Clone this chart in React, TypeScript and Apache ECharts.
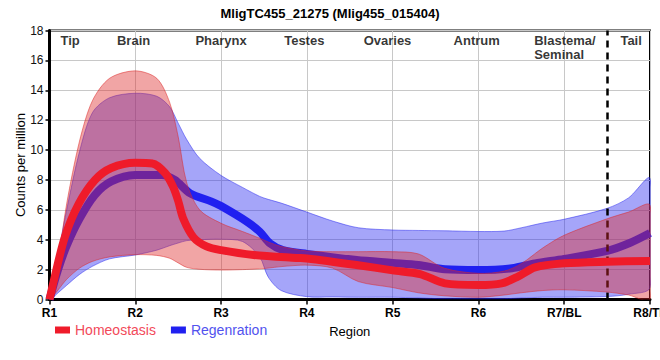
import React, { useEffect, useRef } from "react";
import * as echarts from "echarts";

const FONT = '"Liberation Sans", Arial, sans-serif';

const xLabels = ["R1", "R2", "R3", "R4", "R5", "R6", "R7/BL", "R8/TL"];
const regionNames = ["Tip", "Brain", "Pharynx", "Testes", "Ovaries", "Antrum", "Blastema/\nSeminal", "Tail"];
const regionX = [1.24, 1.98, 3.0, 3.97, 4.94, 5.98, 6.65, 7.78];

const xGrid = [1, 1.1, 1.2, 1.35, 1.5, 1.7, 2, 2.25, 2.4, 2.5, 2.6, 2.75, 3, 3.25, 3.45, 3.55, 3.7, 4, 4.3, 4.6, 5, 5.3, 5.6, 6, 6.3, 6.5, 6.75, 7, 7.5, 7.75, 8];

const homeoUpper = [0, 2.6, 6.4, 10.6, 13.3, 14.8, 15.3, 14.8, 13.2, 10.9, 7.8, 6.0, 5.1, 4.55, 4.1, 3.85, 3.55, 3.25, 3.2, 3.2, 3.2, 3.05, 2.1, 1.75, 1.9, 2.4, 3.45, 4.3, 5.4, 5.85, 6.3];
const homeoLower = [0, 0.64, 1.35, 2.1, 2.55, 2.85, 3.0, 2.95, 2.76, 2.45, 2.15, 2.02, 1.97, 2.0, 2.05, 2.1, 2.2, 2.3, 2.1, 1.2, 0.8, 0.45, 0.25, 0.15, 0.3, 0.45, 0.6, 0.65, 0.5, 0.3, 0.0];
const regenUpper = [0, 3.0, 6.0, 9.9, 12.5, 13.5, 13.8, 13.6, 12.9, 11.8, 10.7, 9.45, 8.3, 7.5, 6.9, 6.7, 6.45, 5.85, 5.25, 4.8, 4.65, 4.62, 4.6, 4.55, 4.58, 4.8, 5.12, 5.37, 6.1, 6.8, 8.1];
const regenLower = [0, 0.45, 0.95, 1.68, 2.22, 2.72, 2.98, 3.3, 3.6, 3.78, 3.94, 4.0, 4.03, 3.88, 2.85, 1.5, 0.6, 0.19, 0.17, 0.15, 0.15, 0.1, 0.05, 0.03, 0.05, 0.1, 0.15, 0.15, 0.2, 0.35, 0.8];

const homeoX = [1, 1.06, 1.18, 1.34, 1.53, 1.72, 2, 2.2, 2.35, 2.44, 2.5, 2.56, 2.68, 2.83, 3, 3.38, 3.88, 4, 4.58, 5, 5.32, 5.61, 6, 6.27, 6.46, 6.66, 7, 7.5, 8];
const homeoY = [0, 1.5, 4.2, 6.4, 8.0, 8.8, 9.15, 9.1, 8.45, 7.55, 6.6, 5.4, 4.15, 3.55, 3.3, 2.98, 2.78, 2.75, 2.31, 1.95, 1.7, 1.08, 0.97, 1.08, 1.53, 2.15, 2.42, 2.53, 2.58];
const regenX = [1, 1.1, 1.2, 1.35, 1.53, 1.72, 2, 2.31, 2.46, 2.64, 2.89, 3, 3.3, 3.45, 3.57, 3.72, 4, 4.58, 5, 5.3, 5.61, 6, 6.39, 6.66, 7, 7.5, 7.77, 8];
const regenY = [0, 2.0, 3.6, 5.4, 7.0, 7.9, 8.33, 8.33, 8.0, 7.1, 6.55, 6.25, 5.21, 4.54, 3.76, 3.31, 3.05, 2.64, 2.45, 2.31, 2.02, 1.97, 2.09, 2.42, 2.72, 3.25, 3.8, 4.45];

const RED = "#ef1b2a";
const BLUE = "#2020f0";
const RED_BAND = "rgba(222,40,40,0.42)";
const BLUE_BAND = "rgba(40,40,240,0.42)";
const RED_EDGE = "rgba(222,40,40,0.5)";
const BLUE_EDGE = "rgba(40,40,240,0.5)";

function bandSeries(name: string, upper: number[], lower: number[], fill: string, edge: string, z: number) {
  return {
    name,
    type: "custom",
    silent: true,
    clip: true,
    z,
    data: [[xGrid[0], upper[0]]],
    renderItem: (_params: any, api: any) => {
      const top = xGrid.map((x, i) => api.coord([x, upper[i]]));
      const bot = xGrid.map((x, i) => api.coord([x, lower[i]])).reverse();
      bot.pop(); // first point is shared with the upper edge
      return {
        type: "polygon",
        shape: { points: top.concat(bot), smooth: 0.3 },
        style: { fill, stroke: edge, lineWidth: 1 },
      };
    },
  };
}

export default function App() {
  const ref = useRef<HTMLDivElement>(null);
  useEffect(() => {
    const chart = echarts.init(ref.current!, null, { renderer: "svg" });
    const pairs = (xs: number[], ys: number[]) => xs.map((x, i) => [x, ys[i]]);
    const SM = 0.3;
    const option: any = {
      animation: false,
      textStyle: { fontFamily: FONT },
      title: {
        text: "MligTC455_21275 (Mlig455_015404)",
        left: "center",
        top: 2,
        textStyle: { fontSize: 13, fontWeight: "bold", color: "#000", fontFamily: FONT },
      },
      legend: {
        left: 55,
        top: 323,
        padding: 0,
        icon: "rect",
        itemWidth: 15,
        itemHeight: 7,
        itemGap: 15,
        textStyle: { fontSize: 14, fontFamily: FONT },
        data: [
          { name: "Homeostasis", textStyle: { color: "#f24a5a" } },
          { name: "Regenration", textStyle: { color: "#5252ee" } },
        ],
      },
      grid: {
        left: 49.5,
        right: 10,
        top: 30.5,
        bottom: 60.5,
        show: true,
        borderColor: "#000",
        borderWidth: 2,
        containLabel: false,
        outerBoundsMode: "none",
      },
      xAxis: {
        type: "value",
        min: 1,
        max: 8,
        interval: 1,
        name: "Region",
        nameLocation: "middle",
        nameGap: 25,
        nameMoveOverlap: false,
        nameTextStyle: { fontSize: 13, color: "#000", fontFamily: FONT },
        axisLine: { lineStyle: { color: "#000", width: 3 } },
        axisTick: { show: true, length: 5, lineStyle: { color: "#000", width: 1.5 } },
        axisLabel: {
          formatter: (v: number) => xLabels[Math.round(v) - 1] ?? "",
          fontSize: 12,
          fontWeight: "bold",
          color: "#000",
          margin: 7,
          fontFamily: FONT,
        },
        splitLine: { show: true, lineStyle: { color: "#c8c8c8", width: 1 } },
      },
      yAxis: {
        type: "value",
        min: 0,
        max: 18,
        interval: 2,
        name: "Counts per million",
        nameLocation: "middle",
        nameGap: 23,
        nameMoveOverlap: false,
        nameTextStyle: { fontSize: 13, color: "#000", fontFamily: FONT },
        axisLine: { show: true, lineStyle: { color: "#000", width: 3 } },
        axisTick: { show: true, length: 4, lineStyle: { color: "#000", width: 1.5 } },
        axisLabel: { fontSize: 12, color: "#111", margin: 6, fontFamily: FONT },
        splitLine: { show: true, lineStyle: { color: "#c8c8c8", width: 1 } },
      },
      series: [
        bandSeries("regenBand", regenUpper, regenLower, BLUE_BAND, BLUE_EDGE, 3),
        {
          name: "Regenration",
          type: "line",
          z: 4,
          data: pairs(regenX, regenY),
          smooth: SM,
          symbol: "none",
          lineStyle: { width: 8, color: BLUE },
          itemStyle: { color: BLUE },
        },
        bandSeries("homeoBand", homeoUpper, homeoLower, RED_BAND, RED_EDGE, 5),
        {
          name: "Homeostasis",
          type: "line",
          z: 6,
          data: pairs(homeoX, homeoY),
          smooth: SM,
          symbol: "none",
          lineStyle: { width: 8, color: RED },
          itemStyle: { color: RED },
          markLine: {
            silent: true,
            symbol: ["none", "none"],
            label: { show: false },
            lineStyle: { color: "#000", type: [7, 5], width: 2.5 },
            data: [{ xAxis: 7.5 }],
          },
        },
        {
          name: "regions",
          type: "scatter",
          z: 7,
          symbolSize: 1,
          silent: true,
          itemStyle: { color: "rgba(0,0,0,0)" },
          data: regionX.map((x, i) => ({
            value: [x, 17.85],
            name: regionNames[i],
            label: { align: regionNames[i].startsWith("Blastema") ? "left" : "center" },
          })),
          label: {
            show: true,
            position: "bottom",
            distance: 0,
            formatter: (p: any) => p.name,
            fontSize: 13,
            fontWeight: "bold",
            lineHeight: 14,
            color: "#000",
            fontFamily: FONT,
          },
        },
      ],
    };
    chart.setOption(option);
    return () => chart.dispose();
  }, []);
  return (
    <div
      ref={ref}
      style={{ position: "fixed", left: 0, top: 0, width: 660, height: 360, background: "#fff" }}
    />
  );
}
